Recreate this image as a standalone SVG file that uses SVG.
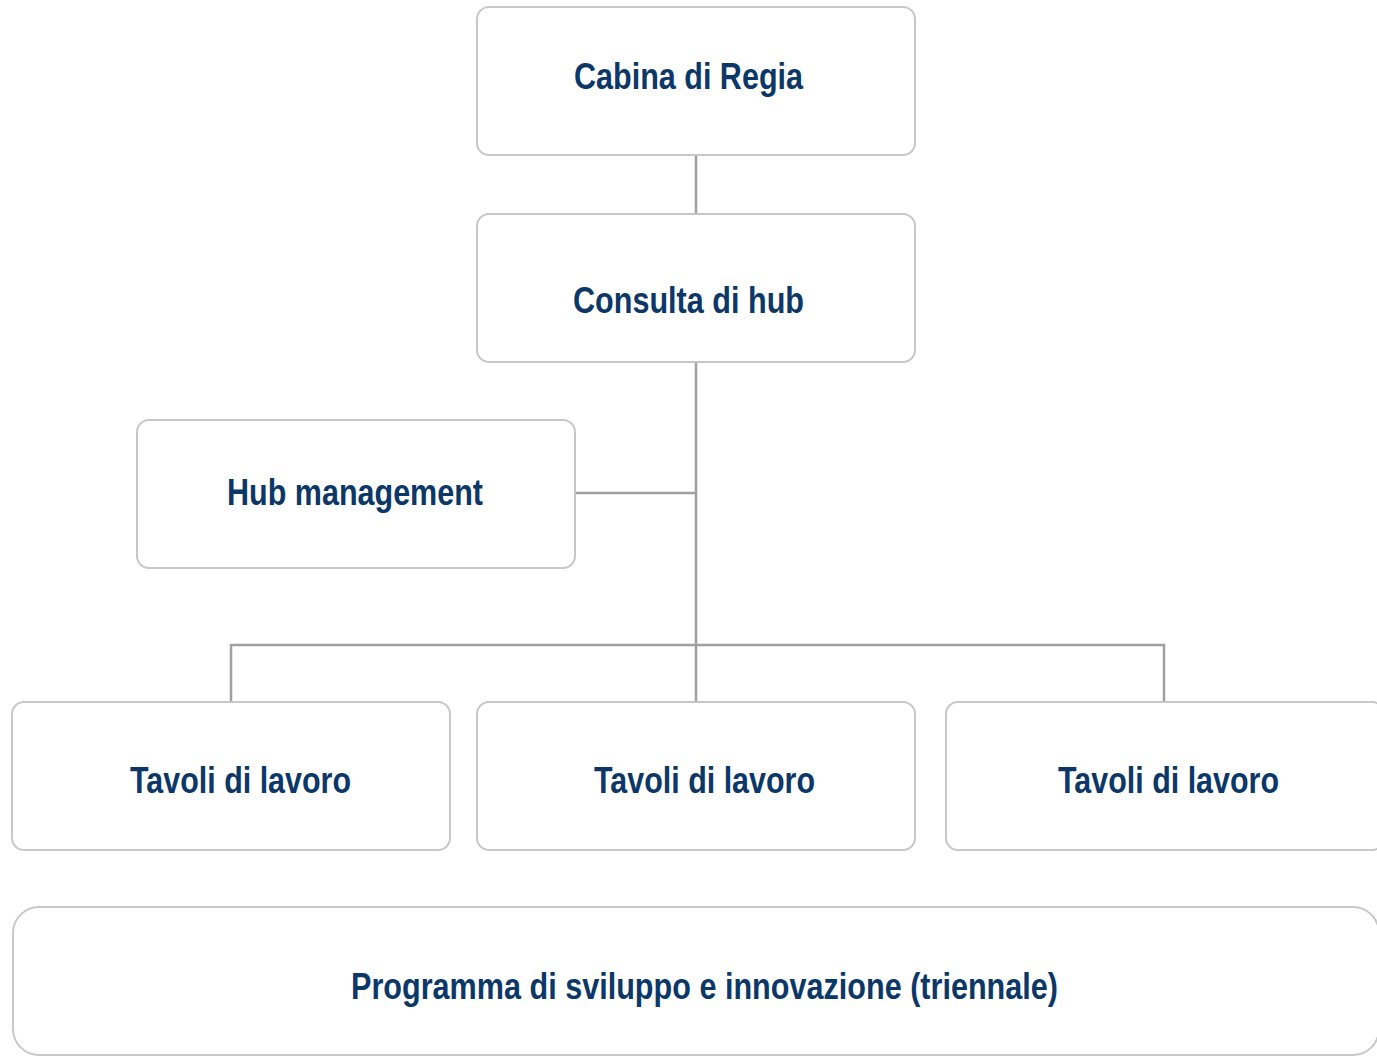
<svg xmlns="http://www.w3.org/2000/svg" width="1377" height="1056" viewBox="0 0 1377 1056">
<style>
.box{fill:#fff;stroke:#c8c8c8;stroke-width:2}
.lbl{font-family:"Liberation Sans Narrow","Arial Narrow","Liberation Sans",sans-serif;font-weight:bold;font-size:37px;fill:#0b3868;text-anchor:middle}
.con{stroke:#a0a0a0;stroke-width:2.5;fill:none}
</style>
<rect width="1377" height="1056" fill="#fff"/>
<g id="connectors">
<path class="con" d="M696 155V214M696 362V702M576 493H696M231 702V645H1164V702"/>
</g>
<g id="cabina"><rect class="box" x="477" y="7" width="438" height="148" rx="12"/><text class="lbl" x="688.5" y="89" textLength="229" lengthAdjust="spacingAndGlyphs">Cabina di Regia</text></g>
<g id="consulta"><rect class="box" x="477" y="214" width="438" height="148" rx="12"/><text class="lbl" x="688.5" y="313" textLength="231" lengthAdjust="spacingAndGlyphs">Consulta di hub</text></g>
<g id="hub"><rect class="box" x="137" y="420" width="438" height="148" rx="12"/><text class="lbl" x="355" y="505" textLength="256" lengthAdjust="spacingAndGlyphs">Hub management</text></g>
<g id="tavoli1"><rect class="box" x="12" y="702" width="438" height="148" rx="12"/><text class="lbl" x="240.5" y="793" textLength="221" lengthAdjust="spacingAndGlyphs">Tavoli di lavoro</text></g>
<g id="tavoli2"><rect class="box" x="477" y="702" width="438" height="148" rx="12"/><text class="lbl" x="704.5" y="793" textLength="221" lengthAdjust="spacingAndGlyphs">Tavoli di lavoro</text></g>
<g id="tavoli3"><rect class="box" x="946" y="702" width="438" height="148" rx="12"/><text class="lbl" x="1168.5" y="793" textLength="221" lengthAdjust="spacingAndGlyphs">Tavoli di lavoro</text></g>
<g id="programma"><rect class="box" x="13" y="907" width="1366" height="148" rx="26"/><text class="lbl" x="704.5" y="999" textLength="707" lengthAdjust="spacingAndGlyphs">Programma di sviluppo e innovazione (triennale)</text></g>
</svg>
